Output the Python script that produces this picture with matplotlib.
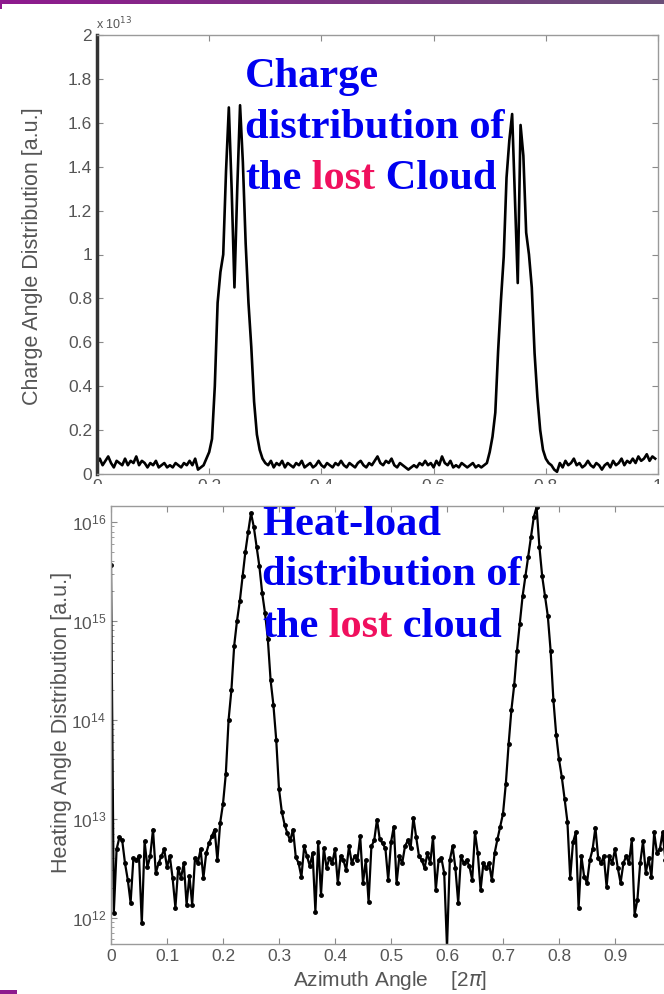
import numpy as np
import matplotlib
matplotlib.use("Agg")
import matplotlib.pyplot as plt
from matplotlib.patches import Rectangle
from matplotlib.ticker import FuncFormatter, LogLocator, NullFormatter
from matplotlib.colors import LinearSegmentedColormap

W, H = 664, 994

# azimuth bins in units of 2*pi
azimuth = np.linspace(0, 0.995, 200)

# charge angle distribution, in units of 1e13 a.u. (top panel)
charge_e13 = [
    0.05, 0.07, 0.04, 0.06, 0.08, 0.05, 0.03, 0.06, 0.05, 0.04,
    0.07, 0.04, 0.06, 0.05, 0.08, 0.04, 0.06, 0.05, 0.03, 0.05,
    0.04, 0.06, 0.03, 0.04, 0.05, 0.03, 0.04, 0.03, 0.05, 0.04,
    0.03, 0.05, 0.04, 0.06, 0.04, 0.07, 0.02, 0.03, 0.04, 0.07,
    0.10, 0.16, 0.40, 0.78, 0.92, 1.00, 1.38, 1.67, 1.30, 0.85,
    1.30, 1.68, 1.42, 1.05, 0.78, 0.58, 0.33, 0.18, 0.11, 0.07,
    0.05, 0.04, 0.06, 0.03, 0.05, 0.04, 0.06, 0.03, 0.05, 0.04,
    0.03, 0.05, 0.04, 0.06, 0.03, 0.04, 0.05, 0.03, 0.04, 0.06,
    0.04, 0.03, 0.05, 0.04, 0.03, 0.05, 0.04, 0.06, 0.04, 0.03,
    0.05, 0.04, 0.03, 0.05, 0.06, 0.04, 0.03, 0.05, 0.04, 0.06,
    0.08, 0.05, 0.04, 0.06, 0.05, 0.07, 0.04, 0.03, 0.05, 0.04,
    0.03, 0.02, 0.03, 0.04, 0.03, 0.05, 0.04, 0.06, 0.04, 0.05,
    0.03, 0.06, 0.04, 0.08, 0.05, 0.04, 0.06, 0.03, 0.04, 0.03,
    0.05, 0.04, 0.03, 0.04, 0.05, 0.03, 0.04, 0.03, 0.04, 0.05,
    0.10, 0.17, 0.28, 0.56, 0.79, 0.99, 1.35, 1.52, 1.64, 1.25,
    0.87, 1.59, 1.45, 1.10, 1.00, 0.85, 0.55, 0.35, 0.20, 0.11,
    0.07, 0.05, 0.04, 0.02, 0.01, 0.05, 0.03, 0.06, 0.04, 0.05,
    0.07, 0.04, 0.05, 0.03, 0.04, 0.06, 0.04, 0.03, 0.05, 0.04,
    0.02, 0.04, 0.05, 0.03, 0.06, 0.04, 0.05, 0.07, 0.04, 0.06,
    0.05, 0.07, 0.05, 0.08, 0.06, 0.07, 0.09, 0.06, 0.08, 0.07,
]

# heating angle distribution, log10 of a.u. (bottom panel)
heat_log10 = [
    15.56, 12.05, 12.69, 12.81, 12.78, 12.55, 12.38, 12.15, 12.60, 12.58,
    12.62, 11.94, 12.77, 12.51, 12.62, 12.89, 12.45, 12.55, 12.62, 12.69,
    12.51, 12.62, 12.40, 12.10, 12.50, 12.40, 12.55, 12.13, 12.42, 12.13,
    12.60, 12.55, 12.69, 12.40, 12.65, 12.75, 12.82, 12.89, 12.58, 12.96,
    13.15, 13.45, 14.00, 14.30, 14.75, 15.00, 15.20, 15.45, 15.70, 15.90,
    16.09, 15.95, 15.75, 15.55, 15.28, 15.08, 14.82, 14.40, 14.15, 13.80,
    13.30, 13.07, 12.94, 12.85, 12.78, 12.89, 12.61, 12.55, 12.41, 12.72,
    12.62, 12.52, 12.65, 12.06, 12.76, 12.23, 12.70, 12.50, 12.60, 12.55,
    12.69, 12.35, 12.62, 12.58, 12.48, 12.72, 12.55, 12.62, 12.58, 12.82,
    12.35, 12.58, 12.16, 12.72, 12.78, 12.99, 12.79, 12.75, 12.70, 12.38,
    12.76, 12.92, 12.35, 12.62, 12.55, 12.72, 12.78, 12.70, 13.01, 12.81,
    12.62, 12.58, 12.50, 12.65, 12.55, 12.81, 12.28, 12.58, 12.60, 12.45,
    11.70, 12.58, 12.72, 12.50, 12.15, 12.62, 12.55, 12.58, 12.52, 12.38,
    12.86, 12.65, 12.28, 12.55, 12.50, 12.55, 12.38, 12.65, 12.79, 12.92,
    13.05, 13.35, 13.75, 14.10, 14.35, 14.70, 14.97, 15.25, 15.45, 15.65,
    15.85, 16.05, 16.15, 15.75, 15.45, 15.25, 15.05, 14.70, 14.20, 13.85,
    13.60, 13.42, 13.20, 12.97, 12.40, 12.76, 12.86, 12.10, 12.62, 12.41,
    12.35, 12.58, 12.69, 12.91, 12.60, 12.55, 12.62, 12.31, 12.62, 12.55,
    12.69, 12.50, 12.35, 12.55, 12.62, 12.55, 12.79, 12.03, 12.18, 12.55,
    12.77, 12.45, 12.60, 12.41, 12.86, 12.65, 12.69, 12.86, 12.58, 12.72,
]
heat = 10.0 ** np.array(heat_log10)

# bottom x tick labels (the 1.0 tick sits past the slide edge)
bottom_xticks = [0, 0.1, 0.2, 0.3, 0.4, 0.5, 0.6, 0.7, 0.8, 0.9, 1.0]
bottom_xlabels = ["0", "0.1", "0.2", "0.3", "0.4", "0.5", "0.6", "0.7", "0.8", "0.9", ""]

plt.rcParams["font.family"] = ["Liberation Sans", "DejaVu Sans"]

fig = plt.figure(figsize=(W / 100, H / 100), dpi=100)
fig.patch.set_facecolor("white")

ax1 = fig.add_axes([97 / W, 1 - 474 / H, 561 / W, 439 / H])
ax2 = fig.add_axes([111 / W, 1 - 944 / H, 560 / W, 438 / H])
ax2.set_zorder(1)

# white sheet of the lower plot hides the upper plot's x tick labels
fig.add_artist(Rectangle((0, 0), 1, 1 - 484 / H, transform=fig.transFigure,
                         facecolor="white", edgecolor="none", zorder=0.5))

gfmt = FuncFormatter(lambda v, p: "%g" % round(v, 3))


def matlab_style(ax):
    for s in ax.spines.values():
        s.set_color("#9a9a9a")
        s.set_linewidth(1.0)
    ax.tick_params(which="both", direction="in", top=True, right=True,
                   color="#8a8a8a", labelsize=12.5, labelcolor="#555555")
    ax.tick_params(which="major", length=4, width=0.8)
    ax.tick_params(which="minor", length=2, width=0.6)


# top panel: charge
ax1.plot(azimuth, charge_e13, color="black", linewidth=1.9)
ax1.set_xlim(0, 1)
ax1.set_ylim(0, 2)
ax1.set_xticks(np.arange(0, 1.01, 0.2))
ax1.set_yticks(np.arange(0, 2.01, 0.2))
ax1.xaxis.set_major_formatter(gfmt)
ax1.yaxis.set_major_formatter(gfmt)
matlab_style(ax1)
ax1.spines["left"].set_color("#333333")
ax1.spines["left"].set_linewidth(2.5)
fig.text(96 / W, 1 - 29 / H, r"x 10$^{13}$", fontsize=9, color="#555555")

# bottom panel: heat load
ax2.semilogy(azimuth, heat, color="black", linewidth=1.6, marker=".",
             markersize=5)
ax2.set_xlim(0, 1)
ax2.set_ylim(5.4e11, 1.45e16)
ax2.set_xticks(bottom_xticks)
ax2.set_xticklabels(bottom_xlabels)
ax2.yaxis.set_major_locator(LogLocator(base=10, numticks=10))
ax2.yaxis.set_minor_locator(LogLocator(base=10, subs=np.arange(2, 10), numticks=20))
ax2.yaxis.set_minor_formatter(NullFormatter())
matlab_style(ax2)

lab = dict(fontsize=15.5, color="#555555")
fig.text(33 / W, 1 - 256 / H, "Charge Angle Distribution [a.u.]",
         rotation=90, ha="center", va="center", **lab)
fig.text(62 / W, 1 - 722 / H, "Heating Angle Distribution [a.u.]",
         rotation=90, ha="center", va="center", **lab)
fig.text(390 / W, 1 - 980 / H, r"Azimuth Angle    [2$\pi$]",
         ha="center", va="center", fontsize=15, color="#555555")

# slide annotations
blue, pink = "#0000F0", "#F0105E"
big = dict(fontsize=30.5, fontweight="bold", family="Liberation Serif")


def write_line(ax, x_px, base_px, pieces):
    word, colour = pieces[0]
    art = ax.text(x_px / W, 1 - base_px / H, word, transform=fig.transFigure,
                  color=colour, va="baseline", ha="left", **big)
    for word, colour in pieces[1:]:
        art = ax.annotate(word, xy=(1, 0), xycoords=art, va="bottom",
                          ha="left", color=colour, annotation_clip=False, **big)


write_line(ax1, 245, 87, [("Charge", blue)])
write_line(ax1, 245, 138, [("distribution of", blue)])
write_line(ax1, 245, 189, [("the", blue), (" lost", pink), (" Cloud", blue)])

write_line(ax2, 262, 535, [("Heat-load", blue)])
write_line(ax2, 262, 585, [("distribution of", blue)])
write_line(ax2, 262, 637, [("the", blue), (" lost", pink), (" cloud", blue)])

# slide frame decorations
band = fig.add_axes([0, 1 - 4 / H, 1, 4 / H])
band.imshow(np.linspace(0, 1, 200)[None, :], aspect="auto",
            cmap=LinearSegmentedColormap.from_list("slide", ["#8e1a8e", "#6a4f78"]))
band.axis("off")
fig.add_artist(Rectangle((0, 1 - 9 / H), 2 / W, 9 / H, transform=fig.transFigure,
                         facecolor="#8e1a8e", edgecolor="none", zorder=3))
fig.add_artist(Rectangle((0, 0), 17 / W, 4 / H, transform=fig.transFigure,
                         facecolor="#8e1a8e", edgecolor="none", zorder=3))

fig.savefig("out.png", dpi=100)
